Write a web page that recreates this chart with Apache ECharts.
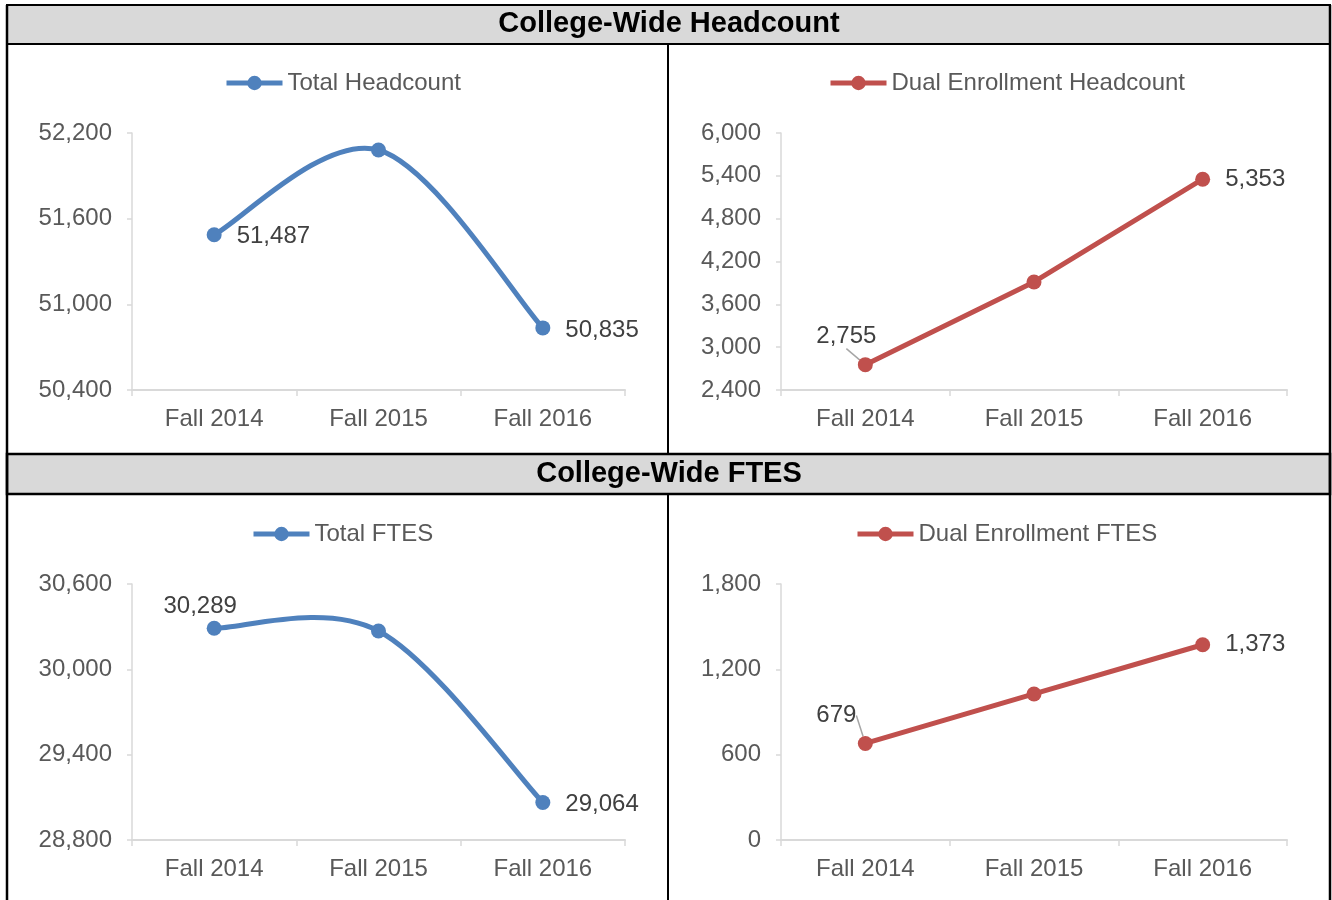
<!DOCTYPE html>
<html>
<head>
<meta charset="utf-8">
<script src="https://cdn.jsdelivr.net/npm/echarts@6/dist/echarts.min.js"></script>
<style>
html,body{margin:0;padding:0;background:#fff;}
#c{width:1332px;height:900px;}
</style>
</head>
<body>
<div id="c"></div>
<script>
const categories = ['Fall 2014', 'Fall 2015', 'Fall 2016'];
const totalHeadcount = [51487, 52081, 50835];
const dualHeadcount = [2755, 3913, 5353];
const totalFtes = [30289, 30270, 29064];
const dualFtes = [679, 1027, 1373];
const headcountTicks = [50400, 52200, 600];
const dualHeadcountTicks = [2400, 6000, 600];
const ftesTicks = [28800, 30600, 600];
const dualFtesTicks = [0, 1800, 600];
const sectionTitles = ['College-Wide Headcount', 'College-Wide FTES'];
const seriesNames = ['Total Headcount', 'Dual Enrollment Headcount', 'Total FTES', 'Dual Enrollment FTES'];

const FONT = '"Liberation Sans", Arial, sans-serif';
const BLUE = '#4f81bd', RED = '#c0504d';
const grids = [
  {left: 132, top: 133, width: 493, height: 257},
  {left: 781, top: 133, width: 506, height: 257},
  {left: 132, top: 584, width: 493, height: 256},
  {left: 781, top: 584, width: 506, height: 256}
];
const ticks = [headcountTicks, dualHeadcountTicks, ftesTicks, dualFtesTicks];
const legendPos = [[224, 71], [828, 71], [251, 522], [855, 522]];
const fmt = v => Number(v).toLocaleString('en-US');

const xAxis = grids.map((g, i) => ({
  type: 'category', gridIndex: i, data: categories, boundaryGap: true,
  axisLine: {lineStyle: {color: '#d9d9d9', width: 2}},
  axisTick: {show: true, length: 6, lineStyle: {color: '#d9d9d9', width: 1.5}},
  axisLabel: {color: '#595959', fontSize: 24, fontFamily: FONT, margin: 17}
}));
const yAxis = grids.map((g, i) => ({
  type: 'value', gridIndex: i, min: ticks[i][0], max: ticks[i][1], interval: ticks[i][2],
  axisLine: {show: true, lineStyle: {color: '#d9d9d9', width: 1.5}},
  axisTick: {show: true, length: 5, lineStyle: {color: '#d9d9d9', width: 1.5}},
  splitLine: {show: false},
  axisLabel: {color: '#595959', fontSize: 24, fontFamily: FONT, margin: 20, padding: [5, 0, 0, 0], formatter: fmt}
}));

const labelBase = {show: true, color: '#404040', fontSize: 24, fontFamily: FONT, formatter: p => fmt(p.value)};
const rightLabel = Object.assign({}, labelBase, {position: 'right', distance: 15, offset: [0, 2]});
const hiddenLabel = {show: false};

function buildData(arr, labels) {
  return arr.map((v, i) => {
    const item = {value: v};
    if (labels[i] === 'right') item.label = rightLabel;
    else if (labels[i] === 'none') item.label = hiddenLabel;
    else if (labels[i] && labels[i].type === 'top') item.label = Object.assign({}, labelBase, {position: 'top', distance: 4, offset: labels[i].offset});
    else if (labels[i] && labels[i].type === 'lead') {
      item.label = Object.assign({}, labelBase, {position: 'inside'});
      item.labelLine = {show: true, lineStyle: {color: '#a6a6a6', width: 1.5}};
    }
    return item;
  });
}

const seriesData = [totalHeadcount, dualHeadcount, totalFtes, dualFtes];
const smoothFlags = [true, false, true, false];
const labelPlans = [
  ['right', 'none', 'right'],
  [{type: 'lead'}, 'none', 'right'],
  [{type: 'top', offset: [-14, 2]}, 'none', 'right'],
  [{type: 'lead'}, 'none', 'right']
];
const leadShift = [null, [-19, -28], null, [-29, -28]];

const series = seriesData.map((arr, i) => ({
  name: seriesNames[i], type: 'line', xAxisIndex: i, yAxisIndex: i,
  data: buildData(arr, labelPlans[i]),
  smooth: false,
  symbol: 'circle', symbolSize: 15,
  lineStyle: {color: i % 2 ? RED : BLUE, width: 5, opacity: smoothFlags[i] ? 0 : 1},
  itemStyle: {color: i % 2 ? RED : BLUE},
  label: {show: false},
  labelLine: {show: false},
  labelLayout: leadShift[i] ? (p => p.dataIndex === 0 ? {dx: leadShift[i][0], dy: leadShift[i][1]} : {}) : undefined,
  z: 3,
  animation: false
}));

// Smoothed curves (Excel-style Catmull-Rom), drawn through the axes' own coordinate mapping
seriesData.forEach((arr, i) => {
  if (!smoothFlags[i]) return;
  series.push({
    name: seriesNames[i] + ' curve', type: 'custom', xAxisIndex: i, yAxisIndex: i,
    data: arr.map((v, k) => [k, v]), silent: true, clip: false, z: 2, animation: false,
    renderItem: (params, api) => {
      if (params.dataIndex !== 0) return null;
      const pts = arr.map((v, k) => api.coord([k, v]));
      const children = [];
      for (let k = 0; k < pts.length - 1; k++) {
        const p0 = pts[Math.max(k - 1, 0)], p1 = pts[k], p2 = pts[k + 1], p3 = pts[Math.min(k + 2, pts.length - 1)];
        children.push({
          type: 'bezierCurve',
          shape: {
            x1: p1[0], y1: p1[1], x2: p2[0], y2: p2[1],
            cpx1: p1[0] + (p2[0] - p0[0]) / 6, cpy1: p1[1] + (p2[1] - p0[1]) / 6,
            cpx2: p2[0] - (p3[0] - p1[0]) / 6, cpy2: p2[1] - (p3[1] - p1[1]) / 6
          },
          style: {stroke: BLUE, lineWidth: 5, fill: null, lineCap: 'round'}
        });
      }
      return {type: 'group', children};
    }
  });
});

const legend = seriesNames.map((n, i) => ({
  data: [n], left: legendPos[i][0], top: legendPos[i][1], padding: 0,
  itemWidth: 56, itemHeight: 18, itemGap: 5,
  lineStyle: {color: i % 2 ? RED : BLUE, width: 5, opacity: 1},
  itemStyle: {color: i % 2 ? RED : BLUE},
  textStyle: {color: '#595959', fontSize: 24, fontFamily: FONT},
  selectedMode: false
}));

const graphic = [
  {type: 'rect', shape: {x: 7, y: 5, width: 1323, height: 39}, style: {fill: '#d9d9d9', stroke: '#000', lineWidth: 2}, z: -1},
  {type: 'rect', shape: {x: 7, y: 454, width: 1323, height: 40}, style: {fill: '#d9d9d9', stroke: '#000', lineWidth: 2.5}, z: -1},
  {type: 'line', shape: {x1: 7, y1: 5, x2: 7, y2: 900}, style: {stroke: '#000', lineWidth: 2.5}},
  {type: 'line', shape: {x1: 1330, y1: 5, x2: 1330, y2: 900}, style: {stroke: '#000', lineWidth: 2.5}},
  {type: 'line', shape: {x1: 668, y1: 44, x2: 668, y2: 454}, style: {stroke: '#000', lineWidth: 2}},
  {type: 'line', shape: {x1: 668, y1: 494, x2: 668, y2: 900}, style: {stroke: '#000', lineWidth: 2}},
  {type: 'text', x: 669, y: 24, style: {text: sectionTitles[0], fill: '#000', font: 'bold 29px ' + FONT, textAlign: 'center', textVerticalAlign: 'middle'}},
  {type: 'text', x: 669, y: 474, style: {text: sectionTitles[1], fill: '#000', font: 'bold 29px ' + FONT, textAlign: 'center', textVerticalAlign: 'middle'}}
];

const chart = echarts.init(document.getElementById('c'), null, {renderer: 'canvas'});
chart.setOption({
  backgroundColor: '#fff',
  animation: false,
  grid: grids.map(g => Object.assign({containLabel: false}, g)),
  xAxis, yAxis, series, legend, graphic
});
</script>
</body>
</html>
